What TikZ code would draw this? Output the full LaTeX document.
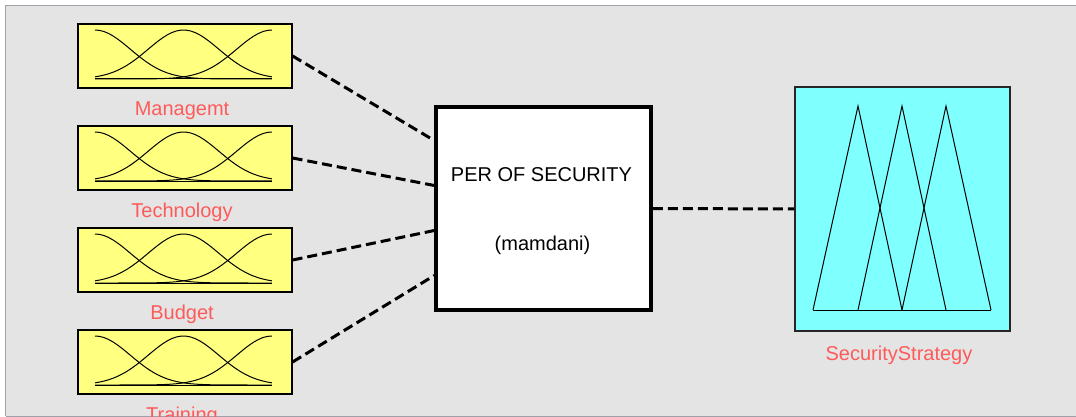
\documentclass[tikz,border=0pt]{standalone}
\usepackage{fontspec}
\setmainfont{Liberation Sans}
\usepackage{tikz}
\usetikzlibrary{calc}
\usetikzlibrary{positioning}
\definecolor{panelgray}{RGB}{228,228,228}
\definecolor{edgegray}{RGB}{160,160,168}
\definecolor{inyellow}{RGB}{255,255,128}
\definecolor{outcyan}{RGB}{128,255,255}
\definecolor{labred}{RGB}{255,90,90}
% three bells inside an input box
\newcommand{\bells}[1]{
\begin{scope}[shift={(#1.center)}]
\draw[line width=1pt] plot[domain=0:1,samples=40] ({-90+177*\x},{23-49*exp(-(\x)^2/0.08)});
\draw[line width=1pt] plot[domain=0:1,samples=40] ({-90+177*\x},{23-49*exp(-(\x-0.5)^2/0.08)});
\draw[line width=1pt] plot[domain=0:1,samples=40] ({-90+177*\x},{23-49*exp(-(\x-1)^2/0.08)});
\draw[line width=1pt] (-90,23)--(87,23);
\end{scope}
}

\begin{document}
\begin{tikzpicture}[
x=1pt,y=-1pt,
InBox/.style={draw=black,fill=inyellow,line width=1.2pt,minimum width=214pt,minimum height=64pt,inner sep=0pt},
OutBox/.style={draw=black!85,fill=outcyan,line width=1.6pt,minimum width=215pt,minimum height=244pt,inner sep=0pt},
FisBox/.style={draw=black,fill=white,line width=3.5pt,minimum width=215pt,minimum height=203pt,inner sep=0pt},
VarLabel/.style={text=labred,anchor=base,inner sep=0pt,font=\fontsize{20}{24}\selectfont},
FisText/.style={anchor=base,inner sep=0pt,font=\fontsize{20}{24}\selectfont},
Link/.style={line width=3pt,dash pattern=on 10pt off 5pt}
]
\useasboundingbox (0,0) rectangle (1076,417);
%\grid;

% panel
\fill[panelgray] (6,6) rectangle (1076,416);
\draw[edgegray,line width=1.5pt] (1076,5.5)--(5.5,5.5)--(5.5,416);
\draw[edgegray,line width=1.5pt] (5.5,416.5)--(1076,416.5);

% inputs
\node[InBox] (mgmt) at (185,56) {};
\node[InBox] (tech) at (185,158) {};
\node[InBox] (budget) at (185,260) {};
\node[InBox] (train) at (185,362) {};

\bells{mgmt}
\bells{tech}
\bells{budget}
\bells{train}

\node[VarLabel] (mgmtlab) at ($(mgmt.south)+(-3,27)$) {Managemt};
\node[VarLabel] (techlab) at ($(tech.south)+(-3,27)$) {Technology};
\node[VarLabel] (budgetlab) at ($(budget.south)+(-3,27)$) {Budget};
\node[VarLabel] (trainlab) at ($(train.south)+(-3,27)$) {Training};

% inference system
\node[FisBox] (fis) at (543.5,208.5) {};
\node[FisText] (fisname) at ($(fis.center)+(-2,-26.5)$) {PER OF SECURITY};
\node[FisText] (fistype) at ($(fis.center)+(-1,41.5)$) {(mamdani)};

\coordinate (in1) at ($(fis.west)+(0,-68)$);
\coordinate (in2) at ($(fis.west)+(0,-23)$);
\coordinate (in3) at ($(fis.west)+(0,22)$);
\coordinate (in4) at ($(fis.west)+(0,67)$);

% output
\node[OutBox] (strat) at (902.5,209) {};
\begin{scope}[shift={(strat.center)}]
\draw[line width=1pt] (-89.5,101)--(-44.5,-103)--(-0.5,101);
\draw[line width=1pt] (-44.5,101)--(-0.5,-103)--(43.5,101);
\draw[line width=1pt] (-0.5,101)--(43.5,-103)--(88.5,101);
\draw[line width=1pt] (-89.5,101)--(88.5,101);
\end{scope}
\node[VarLabel] (stratlab) at ($(strat.south)+(-3.5,29)$) {SecurityStrategy};

% links
\draw[Link] (mgmt.east)--(in1);
\draw[Link] (tech.east)--(in2);
\draw[Link] (budget.east)--(in3);
\draw[Link] (train.east)--(in4);

\draw[Link] (fis.east)--(strat.west);

\end{tikzpicture}
\end{document}
